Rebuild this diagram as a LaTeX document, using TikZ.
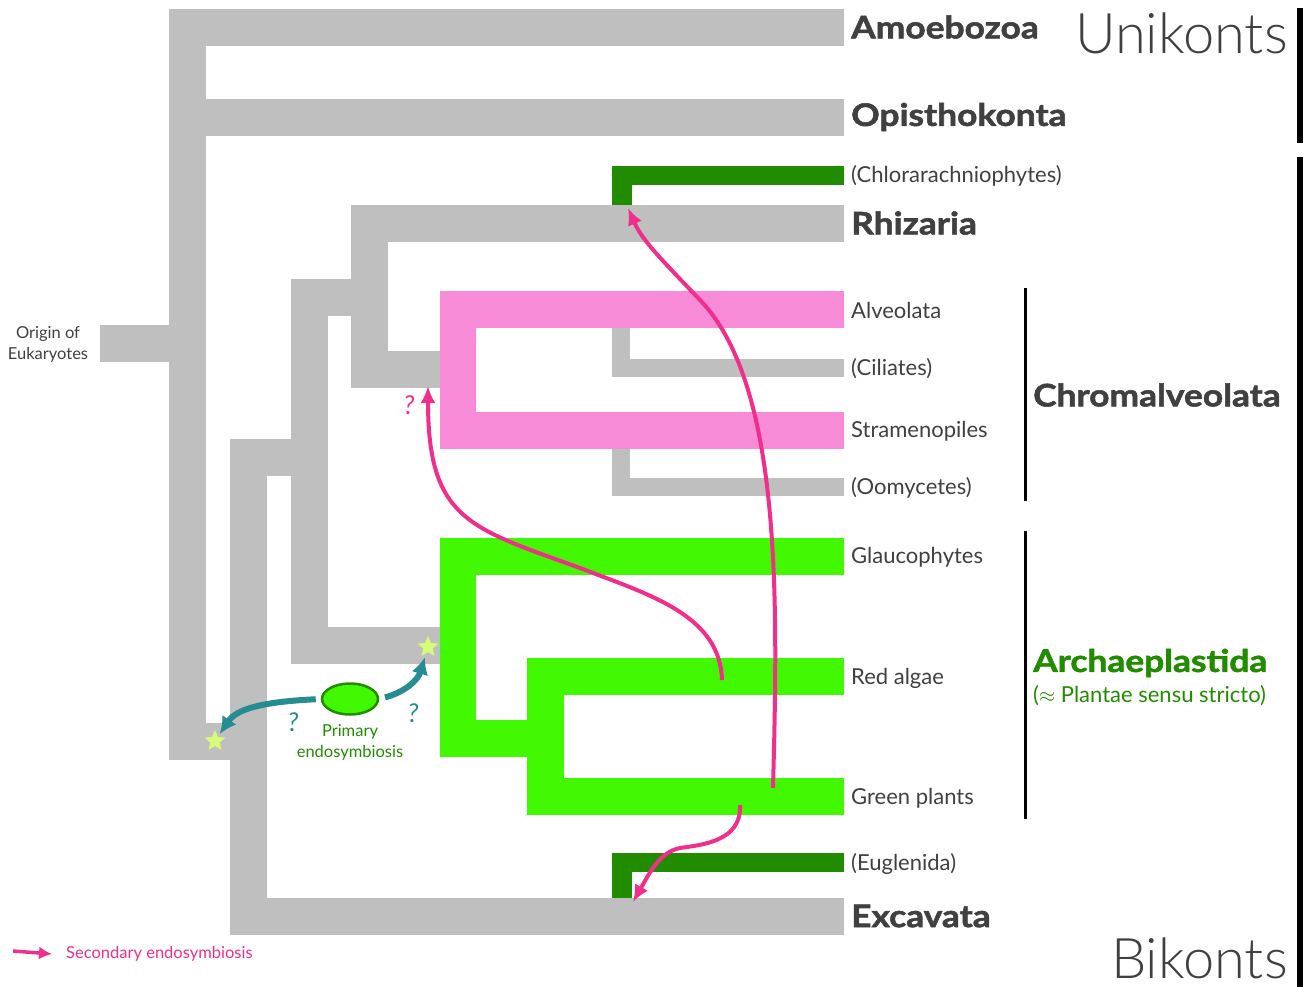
\documentclass[tikz,border=0pt]{standalone}
\usepackage{fontspec}
\setmainfont{Lato}
\newfontfamily\thinfont{Lato Light}
\newfontfamily\cladefont{Lato}[FakeStretch=1.14, FakeBold=1.8]
\usetikzlibrary{positioning, shapes.geometric, arrows.meta}
\definecolor{euGray}{RGB}{191, 191, 191}
\definecolor{euText}{RGB}{64, 64, 64}
\definecolor{euPink}{RGB}{247, 139, 216}
\definecolor{euLime}{RGB}{66, 248, 0}
\definecolor{euGreen}{RGB}{34, 140, 0}
\definecolor{euMagenta}{RGB}{240, 46, 140}
\definecolor{euTeal}{RGB}{38, 140, 145}
\definecolor{euStar}{RGB}{215, 250, 120}
\tikzset{
    base/.style={
        align=center,
        inner sep=0pt
    },
    clade/.style={
        base,
        anchor=west,
        text=euText,
        font=\fontsize{31}{35}\selectfont\cladefont\bfseries
    },
    taxon/.style={
        base,
        anchor=west,
        text=euText,
        font=\fontsize{22}{26}\selectfont
    },
    group/.style={
        base,
        text=euText,
        font=\fontsize{56}{60}\selectfont\thinfont
    },
    small/.style={
        base,
        font=\fontsize{16.5}{21}\selectfont
    },
    secondary/.style={
        -{Latex[length=17pt, width=15pt]},
        line width=4pt,
        color=euMagenta
    },
    primaryarrow/.style={
        -{Latex[length=17pt, width=17pt]},
        line width=6pt,
        color=euTeal
    },
    plastid/.style={
        star,
        star points=5,
        star point ratio=2.2,
        minimum size=22pt,
        inner sep=0pt,
        fill=euStar
    },
    bracket/.style={
        line width=3pt,
        color=black
    }
}

\begin{document}
\begin{tikzpicture}[x=1pt, y=-1pt]
  \useasboundingbox (0,0) rectangle (1309,987);

  % Gray backbone
  \fill[euGray] (100,325) rectangle (206,362);
  \fill[euGray] (169,9) rectangle (206,760);
  \fill[euGray] (169,9) rectangle (844,46);
  \fill[euGray] (206,99) rectangle (844,136);
  \fill[euGray] (169,723) rectangle (267,760);
  \fill[euGray] (230,439) rectangle (267,935);
  \fill[euGray] (230,898) rectangle (844,935);
  \fill[euGray] (230,439) rectangle (328,476);
  \fill[euGray] (291,279) rectangle (328,664);
  \fill[euGray] (291,279) rectangle (388,316);
  \fill[euGray] (351,205) rectangle (388,388);
  \fill[euGray] (351,205) rectangle (844,242);
  \fill[euGray] (351,351) rectangle (440,388);
  \fill[euGray] (291,627) rectangle (440,664);

  % Chromalveolata
  \fill[euPink] (440,291) rectangle (476,449);
  \fill[euPink] (440,291) rectangle (844,328);
  \fill[euPink] (440,412) rectangle (844,449);
  \fill[euGray] (612,328) rectangle (630,377);
  \fill[euGray] (612,359) rectangle (844,377);
  \fill[euGray] (612,449) rectangle (630,496);
  \fill[euGray] (612,478) rectangle (844,496);

  % Archaeplastida
  \fill[euLime] (440,538) rectangle (476,757);
  \fill[euLime] (440,538) rectangle (844,575);
  \fill[euLime] (440,720) rectangle (564,757);
  \fill[euLime] (527,658) rectangle (564,815);
  \fill[euLime] (527,658) rectangle (844,695);
  \fill[euLime] (527,778) rectangle (844,815);

  % Secondary plastids
  \fill[euGreen] (612,166) rectangle (632,205);
  \fill[euGreen] (612,166) rectangle (844,185);
  \fill[euGreen] (612,853) rectangle (632,898);
  \fill[euGreen] (630,853) rectangle (844,872);

  % Clade names
  \node[clade] (amoebozoa) at (851,27) {Amoebozoa};
  \node[clade] (opistho) at (851,117) {Opisthokonta};
  \node[taxon] (chlorarach) at (851,176) {(Chlorarachniophytes)};
  \node[clade] (rhizaria) at (851,223) {Rhizaria};
  \node[taxon] (alveolata) at (851,310) {Alveolata};
  \node[taxon] (ciliates) at (851,369) {(Ciliates)};
  \node[taxon] (strameno) at (851,431) {Stramenopiles};
  \node[taxon] (oomycetes) at (851,488) {(Oomycetes)};
  \node[taxon] (glauco) at (851,557) {Glaucophytes};
  \node[taxon] (redalgae) at (851,678) {Red algae};
  \node[taxon] (greenpl) at (851,798) {Green plants};
  \node[taxon] (euglenida) at (851,864) {(Euglenida)};
  \node[clade] (excavata) at (851,916) {Excavata};
  \node[clade] (chromalv) at (1033,395) {Chromalveolata};
  \node[clade, text=euGreen] (archaep) at (1033,663) {Archaeplastida};
  \node[taxon, text=euGreen] (plantae) at (1033,696) {($\approx$ Plantae sensu stricto)};
  \node[small, text=euText] (origin) at (48,344) {Origin of\\Eukaryotes};

  % Unikonts / Bikonts
  \node[group, anchor=base east] (unikonts) at (1288,54) {Unikonts};
  \node[group, anchor=base east] (bikonts) at (1288,978) {Bikonts};
  \draw[line width=6pt] (1300,8) -- (1300,143);
  \draw[line width=6pt] (1300,157) -- (1300,987);
  \draw[bracket] (1025,288) -- (1025,501);
  \draw[bracket] (1025,531) -- (1025,819);

  % Primary endosymbiosis
  \node[ellipse, draw=euGreen, line width=2.5pt, fill=euLime,
        minimum width=56pt, minimum height=31pt] (primary) at (350,699) {};
  \node[small, text=euGreen, below=9pt of primary] (primlabel) {Primary\\endosymbiosis};
  \node[plastid] (lstar) at (215,741) {};
  \node[plastid] (rstar) at (428,647) {};
  \draw[primaryarrow, shorten <=5pt, shorten >=3pt] (primary.west)
      .. controls (258,702) and (236,710) .. (lstar);
  \draw[primaryarrow, shorten <=6pt, shorten >=4pt] (primary.east)
      .. controls (405,692) and (418,680) .. (rstar);
  \node[small, text=euTeal, font=\fontsize{26}{30}\selectfont\itshape] (qleft) at (293,722) {?};
  \node[small, text=euTeal, font=\fontsize{26}{30}\selectfont\itshape] (qright) at (413,713) {?};

  % Secondary endosymbiosis
  \coordinate (redsrc) at (722,680);
  \coordinate (chromtip) at (428,386);
  \coordinate (greensrc) at (773,788);
  \coordinate (rhiztip) at (628,208);
  \coordinate (greensrc2) at (740,805);
  \coordinate (excatip) at (633,902);
  \draw[secondary] (redsrc) .. controls (720,615) and (650,595) .. (580,568)
      .. controls (470,528) and (428,520) .. (chromtip);
  \draw[secondary] (greensrc) .. controls (778,600) and (782,385) .. (700,300)
      .. controls (660,258) and (642,240) .. (rhiztip);
  \draw[secondary] (greensrc2) .. controls (742,842) and (700,845) .. (680,848)
      .. controls (660,852) and (650,872) .. (excatip);
  \node[small, text=euMagenta, font=\fontsize{26}{30}\selectfont\itshape] (qpink) at (409,405) {?};

  % Legend
  \coordinate (legstart) at (13,951);
  \node[small, anchor=west, text=euMagenta] (legend) at (66,954) {Secondary endosymbiosis};
  \draw[secondary, -{Latex[length=13pt, width=13pt]}, line width=3.5pt] (legstart) -- ([xshift=-14pt]legend.west);
\end{tikzpicture}
\end{document}
